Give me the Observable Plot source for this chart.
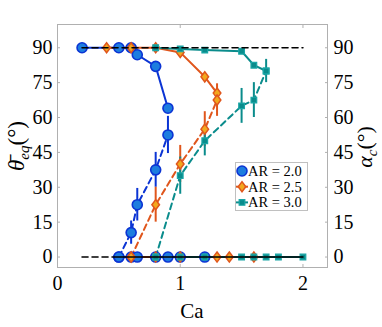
<!DOCTYPE html>
<html><head><meta charset="utf-8">
<script src="https://cdn.jsdelivr.net/npm/d3@7"></script>
<script src="https://cdn.jsdelivr.net/npm/@observablehq/plot@0.6"></script>
<style>
body{margin:0;background:#fff}
#chart{width:382px;height:327px}
#chart svg text{font-family:'Liberation Serif','Times New Roman',serif !important;}
</style>
</head><body><div id="chart"></div>
<script>
// ---- data ----
const yTicks = [0, 15, 30, 45, 60, 75, 90];
const xTicks = [0, 1, 2];
const legendLabels = ["AR = 2.0", "AR = 2.5", "AR = 3.0"];

// AR = 2.0
const caTheta20 = [0.2, 0.5, 0.6, 0.65, 0.8, 0.9];
const theta20   = [90, 90, 90, 87, 82, 64];
const caAlpha20 = [0.5, 0.6, 0.65, 0.8, 0.9];
const alpha20   = [0, 10.5, 22.5, 37.5, 52.5];
const alphaErr20 = [0, 5, 7, 7.5, 8];
const caZero20  = [0.5, 0.6, 0.65, 0.8, 0.9, 1.0, 1.2];

// AR = 2.5
const caTheta25 = [0.4, 0.6, 0.8, 1.0, 1.2, 1.3];
const theta25   = [90, 90, 90, 88, 77.5, 70.5];
const caAlpha25 = [0.6, 0.8, 1.0, 1.2, 1.3];
const alpha25   = [0, 22.5, 40, 55, 67.5];
const alphaErr25 = [0, 7.5, 8, 7.5, 7];
const caZero25  = [0.6, 0.8, 1.0, 1.3, 1.4, 1.6];

// AR = 3.0
const caTheta30 = [0.8, 1.0, 1.2, 1.5, 1.6, 1.7];
const theta30   = [90, 89.5, 89, 88.5, 82.5, 80];
const caAlpha30 = [0.8, 1.0, 1.2, 1.5, 1.6, 1.7];
const alpha30   = [0, 35, 50, 65, 67.5, 80];
const alphaErr30 = [0, 8, 6.5, 7.5, 7.5, 5];
const caZero30  = [0.8, 1.0, 1.2, 1.5, 1.6, 1.7, 1.8, 2.0];

// black reference lines
const refTopCa = [0.2, 2.0];
const refTopVal = [90, 90];
const refZeroDashCa = [0.2, 0.5];
const refZeroSolidCa = [0.5, 2.0];

// ---- styles ----
const FONT = "Liberation Serif, Times New Roman, serif";
// MATLAB-like diamond (wider than d3's)
const wideDiamond = {
  draw(ctx, size) {
    const h = Math.sqrt(size / 1.5), w = 0.75 * h;
    ctx.moveTo(0, -h); ctx.lineTo(w, 0); ctx.lineTo(0, h); ctx.lineTo(-w, 0); ctx.closePath();
  }
};
const specs = [
  {ca: caTheta20, v: theta20, caA: caAlpha20, a: alpha20, e: alphaErr20, z: caZero20,
   line: "#0b34d4", fill: "#1d7ddf", stroke: "#0b34d4", symbol: d3.symbolCircle, r: 5.0, sw: 1.6},
  {ca: caTheta25, v: theta25, caA: caAlpha25, a: alpha25, e: alphaErr25, z: caZero25,
   line: "#e0561c", fill: "#f2a81e", stroke: "#e0561c", symbol: wideDiamond, r: 3.5, sw: 1.5},
  {ca: caTheta30, v: theta30, caA: caAlpha30, a: alpha30, e: alphaErr30, z: caZero30,
   line: "#0a8c8c", fill: "#0a8c8c", stroke: "#1aa6a6", symbol: d3.symbolSquare, r: 3.2, sw: 1.2}
];

const marks = [Plot.frame({stroke: "#b0b0b0"})];
const dotMarks = [];
for (const s of specs) {
  const th = s.ca.map((c, i) => ({ca: c, v: s.v[i]}));
  const al = s.caA.map((c, i) => ({ca: c, v: s.a[i], e: s.e[i]}));
  const zr = s.z.map(c => ({ca: c, v: 0}));
  marks.push(Plot.line(zr, {x: "ca", y: "v", stroke: s.line, strokeWidth: 2}));
  marks.push(Plot.line(th, {x: "ca", y: "v", stroke: s.line, strokeWidth: 2}));
  marks.push(Plot.line(al, {x: "ca", y: "v", stroke: s.line, strokeWidth: 2, strokeDasharray: "6,4"}));
  marks.push(Plot.ruleX(al.filter(d => d.e > 0), {x: "ca", y1: d => d.v - d.e, y2: d => d.v + d.e, stroke: s.line, strokeWidth: 2}));
  const pts = [...zr, ...th, ...al];
  dotMarks.push(Plot.dot(pts, {x: "ca", y: "v", symbol: s.symbol, r: s.r, fill: s.fill, stroke: s.stroke, strokeWidth: s.sw}));
}
marks.push(...dotMarks);
marks.push(Plot.line(refTopCa.map((c, i) => ({ca: c, v: refTopVal[i]})), {x: "ca", y: "v", stroke: "black", strokeWidth: 1.6, strokeDasharray: "6,4"}));
marks.push(Plot.line(refZeroDashCa.map(c => ({ca: c, v: 0})), {x: "ca", y: "v", stroke: "black", strokeWidth: 1.6, strokeDasharray: "6,4"}));
marks.push(Plot.line(refZeroSolidCa.map(c => ({ca: c, v: 0})), {x: "ca", y: "v", stroke: "black", strokeWidth: 1.6}));

const axText = {fill: "black", fontSize: 20, fontFamily: FONT, fontVariant: "normal", label: null, stroke: "#b0b0b0"};
marks.push(Plot.axisY(yTicks, {anchor: "left", tickSize: -3, tickPadding: 8, ...axText}));
marks.push(Plot.axisY(yTicks, {anchor: "right", tickSize: -3, tickPadding: 9, ...axText}));
marks.push(Plot.axisX(xTicks, {anchor: "bottom", tickSize: -3, tickPadding: 11, tickFormat: d => String(d), ...axText}));
marks.push(Plot.axisX(xTicks, {anchor: "top", tickSize: -3, tickFormat: () => "", stroke: "#b0b0b0", label: null}));

const chart = Plot.plot({
  width: 382, height: 327,
  marginLeft: 57, marginRight: 55, marginTop: 24, marginBottom: 60,
  x: {domain: [0, 2.2]},
  y: {domain: [-4.5, 100]},
  style: {fontFamily: FONT, fontSize: "20px", background: "white", color: "black"},
  marks
});
document.getElementById("chart").appendChild(chart);

// ---- labels & legend ----
const svg = d3.select(chart);
svg.append("text").attr("x", 192).attr("y", 318).attr("text-anchor", "middle")
  .attr("font-family", FONT).attr("font-size", 21).attr("fill", "black").text("Ca");

const yl = svg.append("text").attr("transform", "translate(24,146) rotate(-90)")
  .attr("text-anchor", "middle").attr("font-family", FONT).attr("font-size", 23).attr("fill", "black");
yl.append("tspan").attr("font-style", "italic").text("θ\u0304");
yl.append("tspan").attr("font-style", "italic").attr("font-size", 15).attr("dy", 5).text("eq");
yl.append("tspan").attr("dy", -5).text("(°)");

const yr = svg.append("text").attr("transform", "translate(372,147) rotate(-90)")
  .attr("text-anchor", "middle").attr("font-family", FONT).attr("font-size", 22).attr("fill", "black");
yr.append("tspan").attr("font-style", "italic").text("α");
yr.append("tspan").attr("font-style", "italic").attr("font-size", 15).attr("dy", 5).text("c");
yr.append("tspan").attr("dy", -5).text("(°)");

const lg = svg.append("g");
lg.append("rect").attr("x", 235.5).attr("y", 162.5).attr("width", 72).attr("height", 48)
  .attr("fill", "white").attr("stroke", "#c0c0c0").attr("stroke-width", 1);
specs.forEach((s, i) => {
  const cy = 171 + i * 15.7, cx = 242;
  if (i > 0) lg.append("line").attr("x1", cx - 6).attr("x2", cx + 6).attr("y1", cy).attr("y2", cy)
    .attr("stroke", s.line).attr("stroke-width", 2);
  lg.append("path").attr("transform", `translate(${cx},${cy})`)
    .attr("d", d3.symbol(s.symbol, Math.PI * s.r * s.r)())
    .attr("fill", s.fill).attr("stroke", s.stroke).attr("stroke-width", s.sw);
  lg.append("text").attr("x", 248).attr("y", cy + 5).attr("text-anchor", "start").attr("font-family", FONT)
    .attr("font-size", 14.5).attr("fill", "black").text(legendLabels[i]);
});
</script>
</body></html>
